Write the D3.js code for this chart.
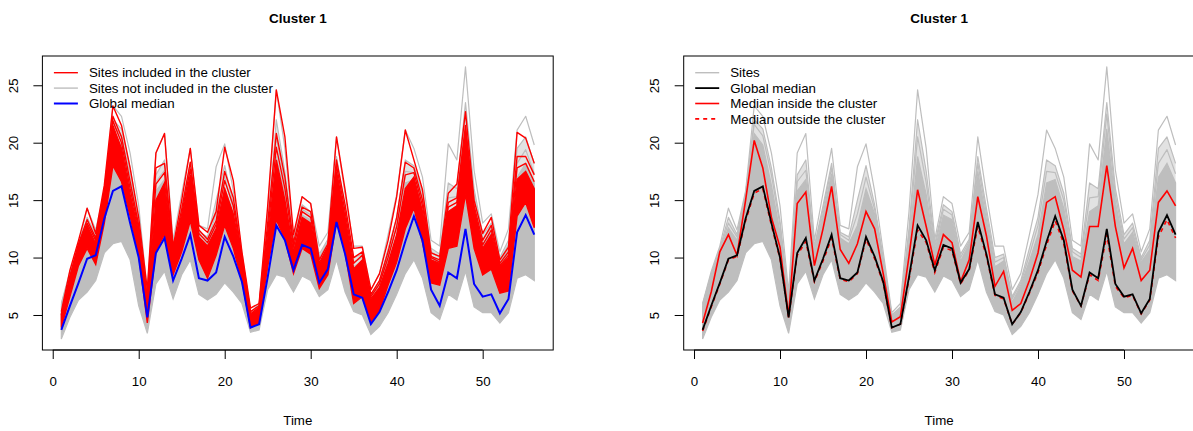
<!DOCTYPE html>
<html><head><meta charset="utf-8">
<script src="https://cdn.jsdelivr.net/npm/d3@7"></script>
<style>
body{margin:0;background:#fff}
svg{display:block}
text{font-family:"Liberation Sans",Arial,Helvetica,sans-serif;fill:#000}
</style>
</head><body>
<svg id="chart" width="1193" height="431"></svg>
<script>
// ---------------- data ----------------
const time = [1,2,3,4,5,6,7,8,9,10,11,12,13,14,15,16,17,18,19,20,21,22,23,24,25,26,27,28,29,30,31,32,33,34,35,36,37,38,39,40,41,42,43,44,45,46,47,48,49,50,51,52,53,54,55,56];

const globalMedian = [3.7,5.8,7.8,9.9,10.2,13.4,15.8,16.2,13.0,10.0, 4.8,10.4,11.7,8.0,9.9,12.0,8.2,8.0,8.7,11.8, 10.1,7.9,3.9,4.2,8.3,12.8,11.5,8.9,11.1,10.8, 7.8,9.0,13.1,10.3,6.8,6.5,4.2,5.25,7.0,8.9, 11.4,13.6,11.5,7.2,5.8,8.7,8.2,12.5,7.7,6.6, 6.8,5.15,6.4,12.2,13.7,12.0];
const medianInside = [4.3,7.0,10.5,12.0,10.2,15.0,20.2,17.8,13.5,10.9, 4.9,14.7,15.7,9.3,12.5,16.2,10.7,9.5,11.2,14.0, 12.5,8.6,4.4,4.85,10.1,15.9,12.7,9.35,12.0,11.3, 7.9,9.8,15.3,11.9,7.5,8.8,5.4,6.0,8.0,10.4, 14.8,15.3,12.4,8.9,8.3,12.7,12.7,18.0,12.7,9.1, 10.8,8.0,8.9,14.8,15.8,14.5];
const medianOutside = [3.6,5.7,7.7,9.8,10.1,13.2,15.6,16.0,12.8,9.9, 4.8,10.2,11.4,7.9,9.7,11.7,8.1,7.9,8.6,11.6, 9.9,7.8,3.9,4.2,8.1,12.4,11.3,8.7,10.9,10.6, 7.7,8.9,12.7,10.1,6.7,6.4,4.2,5.2,6.9,8.7, 11.1,13.2,11.2,7.1,5.8,8.5,8.0,12.0,7.5,6.5, 6.7,5.1,6.3,11.8,13.3,11.7];

// gray sites (envelope profiles)
const grayMin = [2.9,4.8,6.3,7.0,8.0,10.4,11.2,11.4,9.8,5.8, 3.4,7.7,8.8,6.4,8.5,9.8,6.8,6.3,6.8,7.8, 7.0,6.0,3.5,3.7,7.2,8.5,8.3,7.0,8.4,8.0, 6.6,7.2,9.8,7.0,5.3,5.0,3.3,4.0,5.2,6.8, 8.6,9.8,8.2,5.2,4.6,6.8,6.3,8.8,5.7,5.2, 5.2,4.3,5.2,8.2,8.5,8.0];
const grayCore = [5.8,8.3,10.6,12.6,11.5,15.5,20.8,19.8,16.3,12.2, 6.2,15.8,16.8,10.6,13.8,17.3,11.7,11.2,12.8,16.0, 13.8,9.6,4.9,5.5,11.3,18.8,15.5,10.6,13.7,13.3, 9.7,11.2,17.5,13.3,9.2,9.7,6.1,7.6,9.7,12.0, 16.5,16.8,14.3,10.1,9.7,14.0,14.5,21.2,14.8,11.2, 12.2,9.6,10.7,17.0,18.2,16.5];
const grayMid = [5.9,8.5,10.7,13.0,11.8,15.6,21.6,20.6,17.2,12.8, 6.4,16.6,17.6,10.8,14.2,17.8,12.0,11.5,13.8,17.0, 14.2,9.8,5.0,5.6,12.0,20.5,16.5,10.9,14.2,13.7, 10.0,11.4,18.2,13.8,9.6,10.0,6.4,7.8,10.2,12.8, 17.5,17.4,15.0,10.5,10.0,15.2,15.3,22.5,15.4,11.6, 12.6,9.8,11.1,18.2,19.4,17.3];
const grayUpper = [5.9,8.6,10.8,13.5,12.0,15.6,22.0,21.2,17.8,13.2, 6.6,17.2,18.5,11.0,14.5,18.2,12.2,11.8,15.0,18.0, 14.6,10.0,5.0,5.7,12.5,22.0,17.5,11.2,14.6,14.0, 10.3,11.6,18.8,14.3,10.0,10.3,6.6,8.0,10.8,13.5, 18.5,18.0,15.6,10.8,10.3,16.5,16.0,23.5,16.0,12.0, 13.0,10.0,11.5,19.5,20.5,18.2];
const grayMax = [6.0,8.8,11.0,14.3,12.4,15.8,23.2,22.3,19.1,14.5, 7.0,19.1,20.8,11.5,15.6,19.5,12.8,12.5,17.9,19.9, 15.8,10.5,5.2,6.0,14.0,24.6,19.5,11.6,15.3,14.7, 11.0,12.2,20.5,15.5,11.0,11.0,7.2,8.6,12.0,15.5, 21.1,19.5,17.0,11.5,11.0,19.9,18.5,26.6,17.6,13.0, 13.8,10.5,12.5,21.1,22.3,19.8];

// red sites (cluster members)
const redMin = [3.9,6.6,9.3,10.8,9.4,13.0,18.0,16.6,13.6,10.2, 4.3,10.6,12.0,8.5,10.5,13.2,9.8,8.2,10.2,12.8, 10.8,8.0,3.9,4.3,9.2,13.3,11.6,8.6,10.8,10.3, 7.3,8.5,13.2,10.4,6.0,6.6,4.4,5.4,7.6,9.6, 12.5,14.3,11.3,7.8,7.6,10.8,11.0,15.5,10.8,8.5, 9.0,6.9,7.1,13.6,14.8,12.6];
const redCore = [5.0,8.0,11.0,12.8,11.2,15.6,21.5,19.5,15.5,12.2, 5.8,15.0,16.5,10.4,13.5,17.2,11.8,11.0,12.5,16.0, 13.8,9.8,5.0,5.6,11.5,18.5,15.0,10.5,13.5,13.0, 9.2,10.8,17.5,13.5,9.0,9.8,6.4,7.4,9.5,12.0, 16.0,17.0,14.0,9.8,9.5,14.0,14.5,20.8,14.0,10.8, 12.0,9.2,10.0,16.8,17.5,16.0];
const redMid = [5.0,8.2,11.1,13.0,11.5,15.7,21.9,20.0,16.0,12.5, 6.1,16.4,17.4,10.5,13.8,17.7,12.1,11.3,12.9,16.7, 14.5,9.9,5.1,5.7,12.2,19.6,16.0,10.9,14.0,13.5, 9.3,10.9,18.0,14.0,9.5,10.2,6.6,7.7,10.0,12.7, 17.2,17.4,14.5,10.0,9.6,14.4,14.8,21.1,14.2,11.1, 12.4,9.3,10.2,17.8,18.2,16.6];
const redUpper = [5.1,8.4,11.2,13.3,11.7,15.9,22.3,20.5,16.6,12.8, 6.5,17.8,18.2,10.7,14.2,18.3,12.4,11.6,13.2,17.5, 15.2,10.1,5.3,5.8,13.0,20.8,17.0,11.3,14.4,14.0, 9.5,11.0,18.5,14.6,10.0,10.5,6.8,8.0,10.5,13.5, 18.3,17.8,15.0,10.1,9.8,14.8,15.2,21.5,14.5,11.5, 12.8,9.5,10.5,18.8,18.8,17.2];
const redMax = [5.3,8.9,11.5,14.3,12.1,16.3,23.2,21.5,17.8,13.5, 7.2,19.1,20.8,10.9,15.0,19.5,12.8,12.2,14.0,19.6, 16.7,10.5,5.6,6.0,14.5,24.6,20.5,12.0,15.3,14.7, 9.8,11.2,20.5,15.9,10.8,10.9,7.2,8.6,11.5,15.3, 21.1,18.5,15.9,10.4,10.1,15.6,16.4,22.7,15.0,12.1, 13.5,9.8,10.9,20.9,20.4,18.2];

const xTicks = [0,10,20,30,40,50];
const yTicks = [5,10,15,20,25];
const titleText = "Cluster 1";
const xLabel = "Time";
const legendLeft = ["Sites included in the cluster","Sites not included in the cluster","Global median"];
const legendRight = ["Sites","Global median","Median inside the cluster","Median outside the cluster"];

// ---------------- layout ----------------
const svg = d3.select("#chart");
const plotTop = 56, plotBottom = 350, plotW = 510.8;
const GRAY = "#BEBEBE", RED = "#FF0000", BLUE = "#0000FF";
const FS = 13.3;

const allVals = [].concat(grayMin, grayMax, redMin, redMax, globalMedian, medianInside);
const lo = d3.min(allVals), hi = d3.max(allVals), pad = 0.04 * (hi - lo);
const y = d3.scaleLinear().domain([lo - pad, hi + pad]).range([plotBottom, plotTop]);
const tMin = d3.min(time), tMax = d3.max(time), tPad = 0.04 * (tMax - tMin);

function makePanel(left, id) {
  const x = d3.scaleLinear().domain([tMin - tPad, tMax + tPad]).range([left, left + plotW]);
  const g = svg.append("g");
  svg.append("clipPath").attr("id", "clip" + id).append("rect")
    .attr("x", left).attr("y", plotTop).attr("width", plotW).attr("height", plotBottom - plotTop);
  const plot = g.append("g").attr("clip-path", `url(#clip${id})`);
  const line = arr => d3.line().x((d, i) => x(time[i])).y(d => y(d))(arr);
  const area = (a, b) => d3.area().x((d, i) => x(time[i])).y0((d, i) => y(a[i])).y1((d, i) => y(b[i]))(a);

  const xAxis = g.append("g").attr("transform", `translate(0,${plotBottom})`)
    .call(d3.axisBottom(x).tickValues(xTicks).tickSize(9).tickFormat(d3.format("d")));
  xAxis.select(".domain").remove();
  xAxis.selectAll("line").attr("stroke", "#000");
  xAxis.selectAll("text").attr("y", 35.5).attr("dy", null).attr("font-size", FS)
    .style("font-family", '"Liberation Sans",Arial,sans-serif').attr("fill", "#000");
  g.append("line").attr("x1", x(xTicks[0])).attr("x2", x(xTicks[xTicks.length-1]))
    .attr("y1", plotBottom).attr("y2", plotBottom).attr("stroke", "#000");

  const yAxis = g.append("g").attr("transform", `translate(${left},0)`)
    .call(d3.axisLeft(y).tickValues(yTicks).tickSize(9).tickFormat(d3.format("d")));
  yAxis.select(".domain").remove();
  yAxis.selectAll("line").attr("stroke", "#000");
  yAxis.selectAll("text").attr("x", null).attr("dy", null)
    .attr("transform", "translate(-24.5,0) rotate(-90)")
    .attr("text-anchor", "middle").attr("font-size", FS)
    .style("font-family", '"Liberation Sans",Arial,sans-serif').attr("fill", "#000");

  g.append("text").attr("x", left + plotW / 2).attr("y", 22.5).attr("text-anchor", "middle")
    .attr("font-size", 13.5).attr("font-weight", "bold").text(titleText);
  g.append("text").attr("x", left + plotW / 2).attr("y", 424.5).attr("text-anchor", "middle")
    .attr("font-size", FS).text(xLabel);

  return {x, g, plot, line, area, left};
}

function grayBundle(p) {
  p.plot.append("path").attr("d", p.area(grayMin, grayCore)).attr("fill", GRAY).attr("stroke", GRAY).attr("stroke-width", 1.2);
  p.plot.append("path").attr("d", p.area(grayCore, grayUpper)).attr("fill", GRAY).attr("fill-opacity", 0.45).attr("stroke", "none");
  [grayMid, grayUpper, grayMax].forEach(a => p.plot.append("path").attr("d", p.line(a))
    .attr("fill", "none").attr("stroke", GRAY).attr("stroke-width", 1.2).attr("stroke-linejoin", "round"));
}

function box(p) {
  p.g.append("rect").attr("x", p.left).attr("y", plotTop).attr("width", plotW).attr("height", plotBottom - plotTop)
    .attr("fill", "none").attr("stroke", "#000").attr("stroke-width", 1);
}

function legend(p, items) {
  items.forEach((it, i) => {
    const yy = 72.7 + i * 15.4;
    p.g.append("line").attr("x1", p.left + 11.5).attr("x2", p.left + 35.5).attr("y1", yy).attr("y2", yy)
      .attr("stroke", it.color).attr("stroke-width", it.w).attr("stroke-dasharray", it.dash || null);
    p.g.append("text").attr("x", p.left + 46.5).attr("y", yy + 4.7).attr("font-size", FS).text(it.label);
  });
}

// ---------- left panel ----------
const L = makePanel(42.4, "L");
grayBundle(L);
L.plot.append("path").attr("d", L.area(redMin, redCore)).attr("fill", RED).attr("stroke", RED).attr("stroke-width", 1.4);
[redMid, redUpper, redMax].forEach(a => L.plot.append("path").attr("d", L.line(a))
  .attr("fill", "none").attr("stroke", RED).attr("stroke-width", 1.4).attr("stroke-linejoin", "round"));
L.plot.append("path").attr("d", L.line(globalMedian)).attr("fill", "none").attr("stroke", BLUE).attr("stroke-width", 2);
box(L);
legend(L, [
  {label: legendLeft[0], color: RED, w: 1.4},
  {label: legendLeft[1], color: GRAY, w: 1.4},
  {label: legendLeft[2], color: BLUE, w: 2}
]);

// ---------- right panel ----------
const R = makePanel(683.7, "R");
grayBundle(R);
R.plot.append("path").attr("d", R.line(medianInside)).attr("fill", "none").attr("stroke", RED).attr("stroke-width", 1.6);
R.plot.append("path").attr("d", R.line(medianOutside)).attr("fill", "none").attr("stroke", RED).attr("stroke-width", 1.6).attr("stroke-dasharray", "4,4");
R.plot.append("path").attr("d", R.line(globalMedian)).attr("fill", "none").attr("stroke", "#000").attr("stroke-width", 1.8);
box(R);
legend(R, [
  {label: legendRight[0], color: GRAY, w: 1.4},
  {label: legendRight[1], color: "#000", w: 1.8},
  {label: legendRight[2], color: RED, w: 1.6},
  {label: legendRight[3], color: RED, w: 1.6, dash: "4,4"}
]);
</script>
</body></html>
